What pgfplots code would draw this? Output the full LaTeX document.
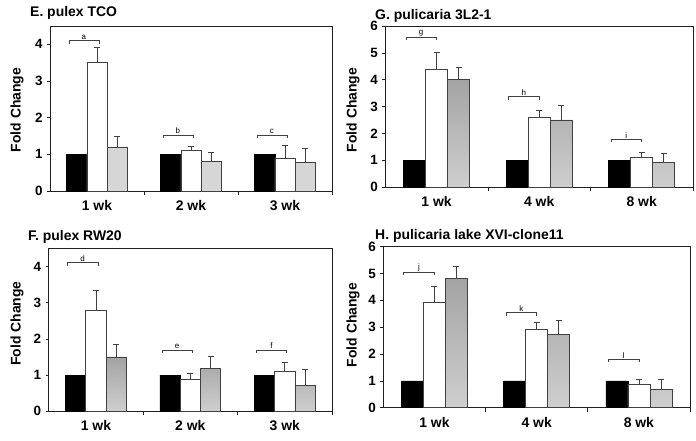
\documentclass[border=0pt]{standalone}
\usepackage{fontspec}
\setmainfont{Liberation Sans}
\usepackage{pgfplots}
\pgfplotsset{compat=1.18}
\definecolor{edge}{HTML}{404040}
\definecolor{axl}{HTML}{202020}
\pgfplotsset{
  panel/.style={
    scale only axis,
    ybar, bar width=0.215,
    xmin=-0.5, xmax=2.5, ymin=0,
    xtick={0,1,2},
    minor xtick={0.5,1.5,2.5},
    xtick pos=bottom, ytick pos=left,
    tick align=outside,
    major x tick style={draw=none},
    minor x tick style={draw=axl, line width=0.6pt},
    minor tick length=4bp,
    major tick length=3bp,
    axis line style={draw=axl, line width=0.7pt},
    y tick style={draw=axl, line width=0.6pt},
    /pgf/number format/assume math mode=true,
    yticklabel style={font=\bfseries\fontsize{13.5}{14}\selectfont, xshift=-1bp},
    xticklabel style={font=\bfseries\fontsize{14}{15}\selectfont, yshift=-3bp},
    clip=false,
  },
  blk/.style={fill=black, draw=black, line width=0.6pt, bar shift=-0.215},
  errs/.style={
    error bars/y dir=plus, error bars/y explicit,
    error bars/error bar style={draw=edge, line width=0.7pt},
    error bars/error mark options={rotate=90, draw=edge, line width=0.7pt, mark size=3bp}},
  wht/.style={fill=white, draw=edge, line width=0.7pt, bar shift=0, errs},
  gry/.style={draw=edge, line width=0.7pt, bar shift=0.215, errs},
}
\newcommand{\brk}[4]{%
  \draw[edge, line width=0.6pt] ([yshift=-3bp]axis cs:#1,#3) -- (axis cs:#1,#3) -- (axis cs:#2,#3) -- ([yshift=-3bp]axis cs:#2,#3);
}
\newcommand{\lbl}[3]{%
  \node[font=\fontsize{8}{9}\selectfont, anchor=south, inner sep=1bp] at (axis cs:#1,#2) {#3};
}
\begin{document}
\begin{tikzpicture}
\useasboundingbox (0,0) rectangle (696bp,441bp);

% ---------- E ----------
\begin{axis}[panel, at={(50bp,250bp)}, anchor=south west,
  width=282bp, height=165bp, ymax=4.5, ytick={0,1,2,3,4},
  xticklabels={1 wk,2 wk,3 wk}]
\addplot[blk] coordinates {(0,1) (1,1) (2,1)};
\addplot[wht] coordinates {(0,3.5) +- (0,0.43) (1,1.1) +- (0,0.13) (2,0.9) +- (0,0.35)};
\addplot[fill=black!16, gry] coordinates {(0,1.2) +- (0,0.28) (1,0.8) +- (0,0.25) (2,0.78) +- (0,0.37)};
\brk{-0.3}{0.02}{4.1}{a}\lbl{-0.14}{4.1}{a}
\brk{0.7}{1.02}{1.53}{b}\lbl{0.86}{1.53}{b}
\brk{1.7}{2.02}{1.53}{c}\lbl{1.86}{1.53}{c}
\end{axis}

% ---------- F ----------
\begin{axis}[panel, at={(48.7bp,29.7bp)}, anchor=south west,
  width=283.3bp, height=163bp, ymax=4.5, ytick={0,1,2,3,4},
  xticklabels={1 wk,2 wk,3 wk}]
\addplot[blk] coordinates {(0,1) (1,1) (2,1)};
\addplot[wht] coordinates {(0,2.8) +- (0,0.54) (1,0.89) +- (0,0.17) (2,1.09) +- (0,0.27)};
\addplot[top color=black!36, bottom color=black!19, gry] coordinates {(0,1.5) +- (0,0.36) (1,1.19) +- (0,0.34) (2,0.71) +- (0,0.44)};
\brk{-0.3}{0.02}{4.1}{d}\lbl{-0.14}{4.1}{d}
\brk{0.7}{1.02}{1.69}{e}\lbl{0.86}{1.69}{e}
\brk{1.7}{2.02}{1.69}{f}\lbl{1.86}{1.69}{f}
\end{axis}

% ---------- G ----------
\begin{axis}[panel, at={(385.3bp,254bp)}, anchor=south west,
  width=307.7bp, height=161bp, ymax=6, ytick={0,1,2,3,4,5,6},
  xticklabels={1 wk,4 wk,8 wk}]
\addplot[blk] coordinates {(0,1) (1,1) (2,1)};
\addplot[wht] coordinates {(0,4.4) +- (0,0.63) (1,2.6) +- (0,0.27) (2,1.1) +- (0,0.18)};
\addplot[top color=black!36, bottom color=black!19, gry] coordinates {(0,4.0) +- (0,0.47) (1,2.5) +- (0,0.55) (2,0.9) +- (0,0.35)};
\brk{-0.3}{0.0}{5.58}{g}\lbl{-0.15}{5.58}{g}
\brk{0.7}{1.0}{3.37}{h}\lbl{0.85}{3.37}{h}
\brk{1.7}{2.0}{1.78}{i}\lbl{1.85}{1.78}{i}
\end{axis}

% ---------- H ----------
\begin{axis}[panel, at={(383.3bp,33.3bp)}, anchor=south west,
  width=306.7bp, height=161bp, ymax=6, ytick={0,1,2,3,4,5,6},
  xticklabels={1 wk,4 wk,8 wk}]
\addplot[blk] coordinates {(0,1) (1,1) (2,1)};
\addplot[wht] coordinates {(0,3.93) +- (0,0.6) (1,2.93) +- (0,0.25) (2,0.88) +- (0,0.19)};
\addplot[top color=black!36, bottom color=black!19, gry] coordinates {(0,4.83) +- (0,0.45) (1,2.72) +- (0,0.53) (2,0.7) +- (0,0.37)};
\brk{-0.3}{0.0}{5.04}{j}\lbl{-0.15}{5.04}{j}
\brk{0.7}{1.0}{3.54}{k}\lbl{0.85}{3.54}{k}
\brk{1.7}{2.0}{1.8}{l}\lbl{1.85}{1.8}{l}
\end{axis}

% titles and y labels
\begin{scope}[every node/.style={font=\bfseries\fontsize{14}{15}\selectfont, inner sep=0pt}]
\node[anchor=base west] at (30bp,424.3bp) {E. pulex TCO};
\node[anchor=base west] at (28bp,200.3bp) {F. pulex RW20};
\node[anchor=base west] at (375bp,421bp) {G. pulicaria 3L2-1};
\node[anchor=base west] at (375bp,201bp) {H. pulicaria lake XVI-clone11};
\node[rotate=90] at (17bp,331bp) {Fold Change};
\node[rotate=90] at (17bp,117.5bp) {Fold Change};
\node[rotate=90] at (353bp,331bp) {Fold Change};
\node[rotate=90] at (353bp,116bp) {Fold Change};
\end{scope}
\end{tikzpicture}
\end{document}
